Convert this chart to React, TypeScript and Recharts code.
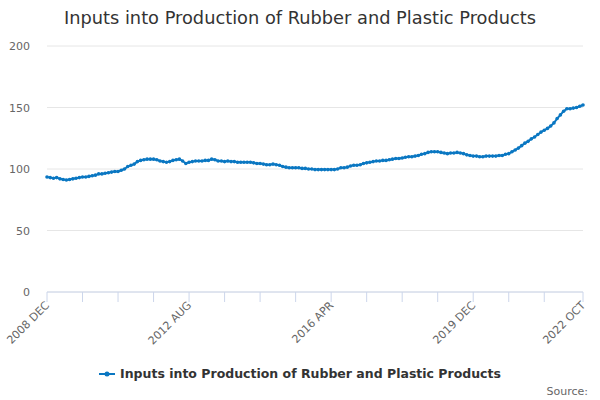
import React from "react";
import { LineChart, Line, XAxis, YAxis, CartesianGrid } from "recharts";

const SERIES_NAME = "Inputs into Production of Rubber and Plastic Products";
const MONTHS = ["JAN", "FEB", "MAR", "APR", "MAY", "JUN", "JUL", "AUG", "SEP", "OCT", "NOV", "DEC"];

// monthly index, 2008 DEC .. 2022 OCT
const values = [
  93.5, 93, 92.5, 93, 92, 91.5, 91, 91.5, 92, 92.5, 93, 93.5, 93.5,
  94, 94.5, 95, 96, 96, 96.5, 97, 97.5, 98, 98, 99, 100,
  102, 103, 104, 106, 107, 107.5, 108, 108, 108, 107.5, 106.5, 106,
  105.5, 106, 107, 107.5, 108, 106.5, 104.5, 105.5, 106, 106.5, 106.5, 106.5,
  107, 107, 108, 107.5, 106.5, 106.5, 106, 106.5, 106, 106, 105.5, 105.5,
  105.5, 105.5, 105.5, 105, 104.5, 104.5, 104, 103.5, 103.5, 104, 103.5, 103,
  102, 101.5, 101, 101, 101, 101, 100.5, 100.5, 100, 100, 99.5, 99.5,
  99.5, 99.5, 99.5, 99.5, 99.5, 100, 101, 101, 101.5, 102.5, 103, 103,
  103.5, 104.5, 105, 105.5, 106, 106.5, 106.5, 107, 107, 107.5, 108, 108.5,
  108.5, 109, 109.5, 110, 110, 110.5, 111, 112, 112.5, 113.5, 114, 114,
  114, 113.5, 113, 112.5, 113, 113, 113.5, 113, 112.5, 111.5, 111, 110.5,
  110.5, 110, 110, 110.5, 110.5, 110.5, 110.5, 111, 111, 112, 112.5, 114,
  115.5, 117, 119, 121, 122.5, 124.5, 126, 128, 130, 131.5, 133, 135,
  137.5, 141, 144, 147, 149, 149, 149.5, 150, 151, 152,
];

const categories = values.map((_, i) => {
  const m = 11 + i; // start at DEC 2008
  return `${2008 + Math.floor(m / 12)} ${MONTHS[m % 12]}`;
});

const xTicks = [0, 11, 22, 33, 44, 55, 66, 77, 88, 99, 110, 121, 132, 143, 154, 166];
const tickLabels = ["2008 DEC", "2012 AUG", "2016 APR", "2019 DEC", "2022 OCT"];
const yTicks = [0, 50, 100, 150, 200];

const data = values.map((v, i) => ({ i, label: categories[i], value: v }));

const FONT = "'DejaVu Sans', sans-serif";
const COLOR = "#0a77c2";

function XTick(props: any) {
  const { x, y, payload } = props;
  const label = categories[payload.value];
  if (!tickLabels.includes(label)) return null;
  const tx = x + 3;
  const ty = y + 2;
  return (
    <text
      x={tx}
      y={ty}
      transform={`rotate(-45 ${tx} ${ty})`}
      textAnchor="end"
      fontSize={11}
      fontFamily={FONT}
      fill="#666"
    >
      {label}
    </text>
  );
}

function YTick(props: any) {
  const { y, payload } = props;
  return (
    <text x={30} y={y + 4} textAnchor="end" fontSize={11} fontFamily={FONT} fill="#666">
      {payload.value}
    </text>
  );
}

export default function App() {
  return (
    <div style={{ position: "absolute", left: 0, top: 0, width: 600, height: 400, background: "#fff" }}>
      <div
        style={{
          position: "absolute",
          top: 7,
          width: 600,
          textAlign: "center",
          fontFamily: FONT,
          fontSize: 17.8,
          color: "#333",
        }}
      >
        {SERIES_NAME}
      </div>
      <LineChart
        width={600}
        height={400}
        data={data}
        margin={{ top: 46, right: 17, left: 0, bottom: 48 }}
      >
        <CartesianGrid vertical={false} stroke="#e6e6e6" />
        <XAxis
          dataKey="i"
          type="number"
          domain={[0, 166]}
          ticks={xTicks}
          interval={0}
          tick={<XTick />}
          tickSize={10}
          tickLine={{ stroke: "#ccd6eb" }}
          axisLine={{ stroke: "#ccd6eb" }}
          height={60}
        />
        <YAxis
          domain={[0, 200]}
          ticks={yTicks}
          tick={<YTick />}
          axisLine={false}
          tickLine={false}
          width={47}
        />
        <Line
          dataKey="value"
          name={SERIES_NAME}
          stroke={COLOR}
          strokeWidth={2}
          dot={{ r: 1.8, fill: COLOR, stroke: COLOR, strokeWidth: 0 }}
          isAnimationActive={false}
        />
      </LineChart>
      <div
        style={{
          position: "absolute",
          top: 366,
          left: 0,
          width: 600,
          display: "flex",
          justifyContent: "center",
          alignItems: "center",
          fontFamily: FONT,
        }}
      >
        <svg width={16} height={10} style={{ marginRight: 5 }}>
          <line x1={0} y1={5} x2={16} y2={5} stroke={COLOR} strokeWidth={2} />
          <circle cx={8} cy={5} r={2.5} fill={COLOR} />
        </svg>
        <span style={{ fontSize: 12.5, fontWeight: "bold", color: "#333" }}>{SERIES_NAME}</span>
      </div>
      <div
        style={{
          position: "absolute",
          right: 12,
          top: 385,
          fontFamily: FONT,
          fontSize: 11,
          color: "#666",
        }}
      >
        Source:
      </div>
    </div>
  );
}
